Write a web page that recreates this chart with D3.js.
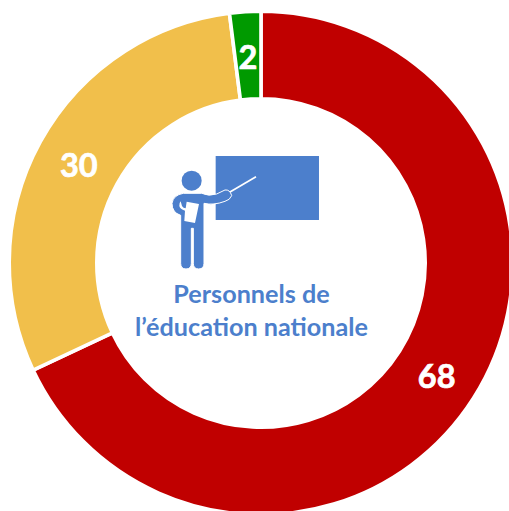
<!DOCTYPE html>
<html><head><meta charset="utf-8">
<script src="https://cdn.jsdelivr.net/npm/d3@7/dist/d3.min.js"></script>
<style>html,body{margin:0;padding:0;background:#fff;overflow:hidden}svg{display:block}</style>
</head><body><div id="c"></div>
<script>
const categories = ["A","B","C"];
const values = [68,30,2];
const sliceColors = ["#C00000","#F1BF4B","#009A00"];
const titleLines = ["Personnels de","l’éducation nationale"];
const width=509,height=511,cx=261,cy=263,R=251.8,r=164.2;
const font="Lato, Carlito, Calibri, sans-serif", blue="#4C7FCC";
const svg=d3.select("#c").append("svg").attr("width",width).attr("height",height);
const pie=d3.pie().sort(null).value(d=>d)(values);
const arc=d3.arc().innerRadius(r).outerRadius(R);
const g=svg.append("g").attr("transform",`translate(${cx},${cy})`);
g.selectAll("path").data(pie).join("path").attr("d",arc)
 .attr("fill",(d,i)=>sliceColors[i]).attr("stroke","#fff").attr("stroke-width",3.6);
g.selectAll("text").data(pie).join("text")
 .attr("transform",d=>`translate(${arc.centroid(d)})`)
 .attr("y",1.5)
 .attr("text-anchor","middle").attr("dominant-baseline","central")
 .attr("font-family",font).attr("font-weight",700).attr("font-size",32.5).attr("fill","#fff")
 .attr("stroke","#fff").attr("stroke-width",0.7)
 .text(d=>d.value);
// pictogram
const ic=svg.append("g").attr("transform","translate(150,140) scale(0.3333)");
ic.append("rect").attr("x",197).attr("y",48).attr("width",310).attr("height",192).attr("fill",blue);
ic.append("line").attr("x1",240).attr("y1",156).attr("x2",318).attr("y2",110).attr("stroke","#fff").attr("stroke-width",5);
ic.append("circle").attr("cx",125).attr("cy",122).attr("r",30).attr("fill",blue);
ic.append("path").attr("fill",blue).attr("stroke","#fff").attr("stroke-width",3)
 .attr("d","M100 160 L155 160 Q175 170 200 162 L225 150 Q240 148 245 167 Q240 180 225 184 Q190 197 162 190 L162 370 Q162 387 146 387 Q130 387 130 370 L130 265 L124 265 L124 370 Q124 387 108 387 Q92 387 92 370 L92 226 Q66 218 66 190 Q70 165 100 160Z");
ic.append("path").attr("fill","#fff").attr("d","M110 185 L147 192 L135 249 L103 243 L105 212 Q90 208 88 198 Q88 188 92 184 L96 198 Q100 205 107 205Z");
svg.append("g").selectAll("text").data(titleLines).join("text")
 .attr("x",251.5).attr("y",(d,i)=>303+i*33).attr("text-anchor","middle")
 .attr("font-family",font).attr("font-weight",700).attr("font-size",25.2).attr("fill",blue)
 .text(d=>d);
</script></body></html>
